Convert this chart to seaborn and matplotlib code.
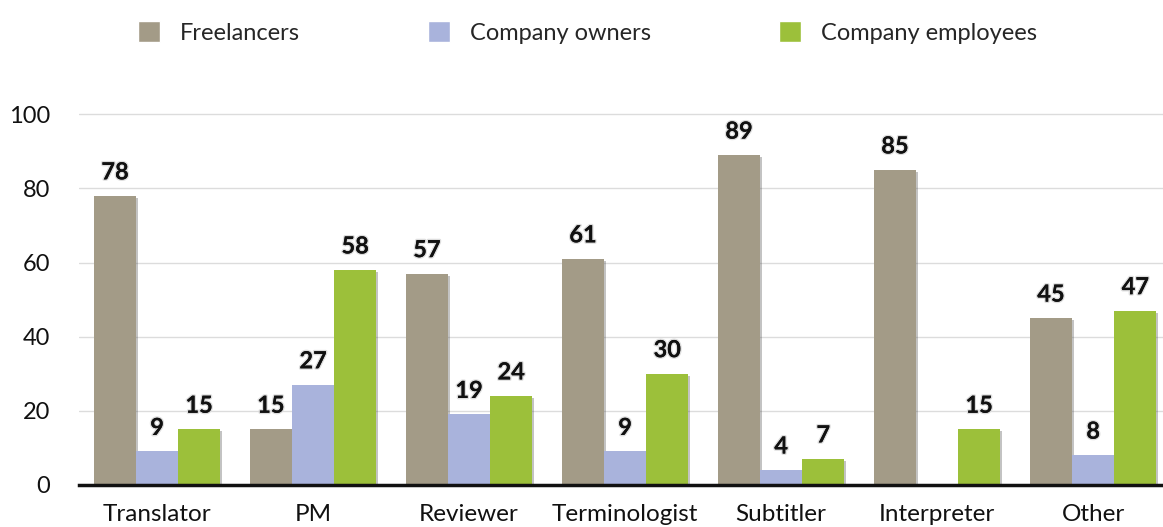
import matplotlib
matplotlib.use("Agg")
import matplotlib.pyplot as plt
import matplotlib.patheffects as pe
from matplotlib.patches import Patch
import seaborn as sns
import pandas as pd

categorias = ["Translator", "PM", "Reviewer", "Terminologist", "Subtitler", "Interpreter", "Other"]
grupos = ["Freelancers", "Company owners", "Company employees"]
freelancers = [78, 15, 57, 61, 89, 85, 45]
company_owners = [9, 27, 19, 9, 4, 0, 8]
company_employees = [15, 58, 24, 30, 7, 15, 47]
cores = ["#a39b87", "#a9b3dc", "#9cc03a"]

# Monta o DataFrame em formato longo para o seaborn.
df = pd.DataFrame({
    "categoria": categorias * 3,
    "grupo": [g for g in grupos for _ in categorias],
    "valor": freelancers + company_owners + company_employees,
})

sns.set_style("white")
plt.rcParams["font.family"] = ["Lato", "DejaVu Sans"]

fig = plt.figure(figsize=(11.63, 5.27), dpi=100)
ax = fig.add_axes([0.068, 0.08, 0.939, 0.71])

sns.barplot(data=df, x="categoria", y="valor", hue="grupo", order=categorias,
            hue_order=grupos, palette=cores, width=0.81, saturation=1,
            linewidth=0, ax=ax, legend=False)

sombra = [pe.withSimplePatchShadow(offset=(1.5, -1.5), shadow_rgbFace="#555555", alpha=0.35)]
for barra in ax.patches:
    barra.set_path_effects(sombra)

for cont, vals in zip(ax.containers, [freelancers, company_owners, company_employees]):
    rotulos = [str(v) if v > 0 else "" for v in vals]
    txts = ax.bar_label(cont, labels=rotulos, padding=9, fontsize=17, fontweight="bold",
                        color="#111111")
    for t in txts:
        t.set_path_effects([pe.withStroke(linewidth=2, foreground="#dddddd"), pe.Normal()])

ax.set_ylim(0, 101)
ax.set_xlim(-0.5, 6.5)
ax.set_yticks([0, 20, 40, 60, 80, 100])
ax.yaxis.grid(True, color="#dcdcdc", linewidth=1)
ax.set_axisbelow(True)
ax.set_xlabel("")
ax.set_ylabel("")
for lado in ["top", "right", "left"]:
    ax.spines[lado].set_visible(False)
ax.spines["bottom"].set_linewidth(2.5)
ax.spines["bottom"].set_color("#111111")

ax.tick_params(axis="y", length=0, labelsize=17, pad=21, labelcolor="#111111")
ax.tick_params(axis="x", which="major", length=0, labelsize=17.5, pad=14, labelcolor="#111111")
ax.set_xticks([i + 0.5 for i in range(-1, 7)], minor=True)
ax.tick_params(axis="x", which="minor", direction="in", length=7, width=2, color="#111111")

handles = [Patch(facecolor=c, label=g) for c, g in zip(cores, grupos)]
fig.legend(handles=handles, loc="upper center", bbox_to_anchor=(0.505, 1.0), ncol=3,
           frameon=False, fontsize=17, handlelength=0.95, handleheight=0.95,
           handletextpad=0.85, columnspacing=5.4)

fig.savefig("out.png", dpi=100)
